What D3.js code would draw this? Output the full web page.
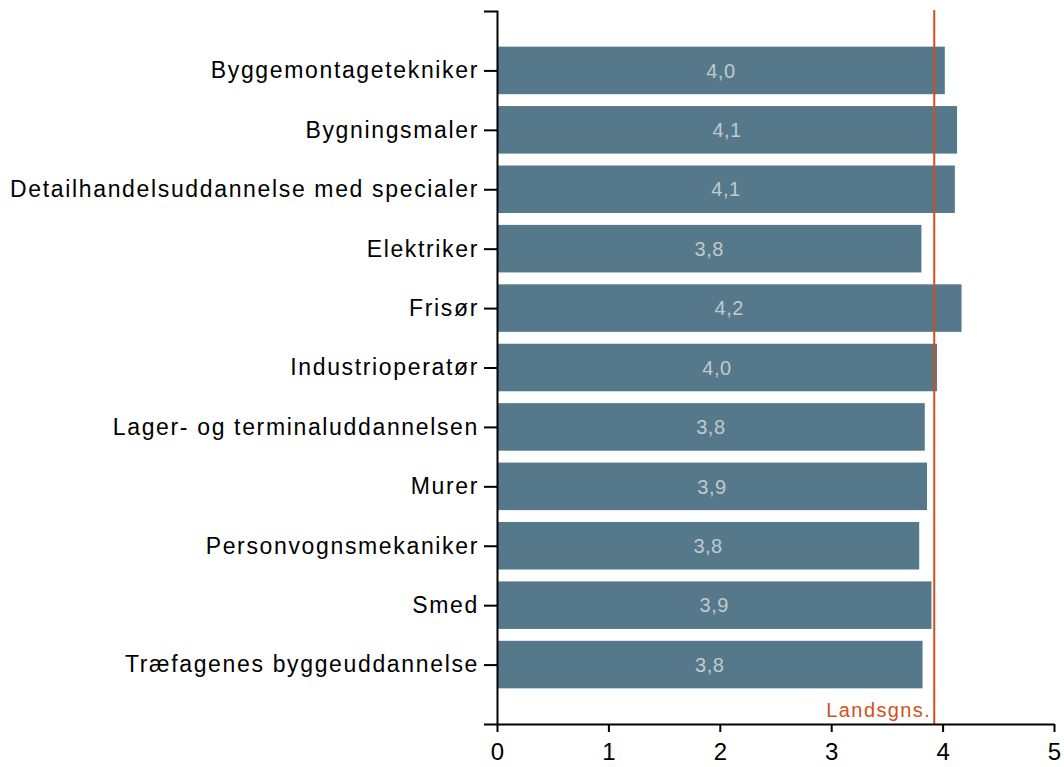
<!DOCTYPE html>
<html>
<head>
<meta charset="UTF-8">
<title>Karakterer</title>
<script src="https://d3js.org/d3.v7.min.js"></script>
<style>
  body { margin: 0; background: #fff; }
  text { font-family: "Liberation Sans", Arial, sans-serif; }
</style>
</head>
<body>
<div id="chart"></div>
<script>

var categories = [
  "Byggemontagetekniker",
  "Bygningsmaler",
  "Detailhandelsuddannelse med specialer",
  "Elektriker",
  "Frisør",
  "Industrioperatør",
  "Lager- og terminaluddannelsen",
  "Murer",
  "Personvognsmekaniker",
  "Smed",
  "Træfagenes byggeuddannelse"
];
var values = [4.02, 4.13, 4.11, 3.81, 4.17, 3.95, 3.84, 3.86, 3.79, 3.90, 3.82];
var labels = ["4,0", "4,1", "4,1", "3,8", "4,2", "4,0", "3,8", "3,9", "3,8", "3,9", "3,8"];
var xTicks = [0, 1, 2, 3, 4, 5];
var average = 3.925;
var averageLabel = "Landsgns.";

var margin = {top: 11, right: 10, bottom: 43, left: 497},
    width = 1064 - margin.left - margin.right,
    height = 767 - margin.top - margin.bottom;

var svg = d3.select("#chart")
  .append("svg")
    .attr("width", 1064)
    .attr("height", 767)
  .append("g")
    .attr("transform", "translate(" + margin.left + "," + margin.top + ")");

var x = d3.scaleLinear().domain([0, 5]).range([0, 557]);
var y = d3.scalePoint().domain(categories).range([0, height]).padding(1);
var barH = y.step() * 0.8;

// bars
svg.selectAll(".bar")
  .data(values)
  .enter()
  .append("rect")
    .attr("class", "bar")
    .attr("x", 1)
    .attr("y", function(d, i) { return y(categories[i]) - barH / 2; })
    .attr("width", function(d) { return x(d) - 1; })
    .attr("height", barH)
    .attr("fill", "#55798b");

// value labels
svg.selectAll(".val")
  .data(values)
  .enter()
  .append("text")
    .attr("class", "val")
    .attr("x", function(d) { return x(d) / 2; })
    .attr("y", function(d, i) { return y(categories[i]); })
    .attr("dy", "0.36em")
    .attr("text-anchor", "middle")
    .attr("fill", "#c2c8cc")
    .style("font-size", "20px")
    .style("letter-spacing", "0.5px")
    .text(function(d, i) { return labels[i]; });

// average line
svg.append("line")
  .attr("x1", x(average)).attr("x2", x(average))
  .attr("y1", -1).attr("y2", height)
  .attr("stroke", "#d2501e")
  .attr("stroke-width", 2);

svg.append("text")
  .attr("x", x(average) - 3)
  .attr("y", height - 7)
  .attr("text-anchor", "end")
  .attr("fill", "#d2501e")
  .style("font-size", "20px")
  .style("letter-spacing", "1.4px")
  .text(averageLabel);

// x axis
var xAxis = svg.append("g")
  .attr("transform", "translate(0," + height + ")")
  .call(d3.axisBottom(x).tickValues(xTicks).tickFormat(d3.format("d")).tickSizeInner(8).tickSizeOuter(0));
xAxis.select(".domain").attr("stroke-width", 2);
xAxis.selectAll(".tick line").attr("stroke-width", 2);
xAxis.selectAll("text").style("font-size", "24px").attr("fill", "#000").attr("dy", "1.05em");

// y axis
var yAxis = svg.append("g")
  .call(d3.axisLeft(y).tickSizeInner(13).tickSizeOuter(13).tickPadding(5));
yAxis.select(".domain").attr("stroke-width", 2);
yAxis.selectAll(".tick line").attr("stroke-width", 2);
yAxis.selectAll("text")
  .style("font-size", "23px")
  .style("letter-spacing", "1.65px")
  .attr("fill", "#000");

</script>
</body>
</html>
